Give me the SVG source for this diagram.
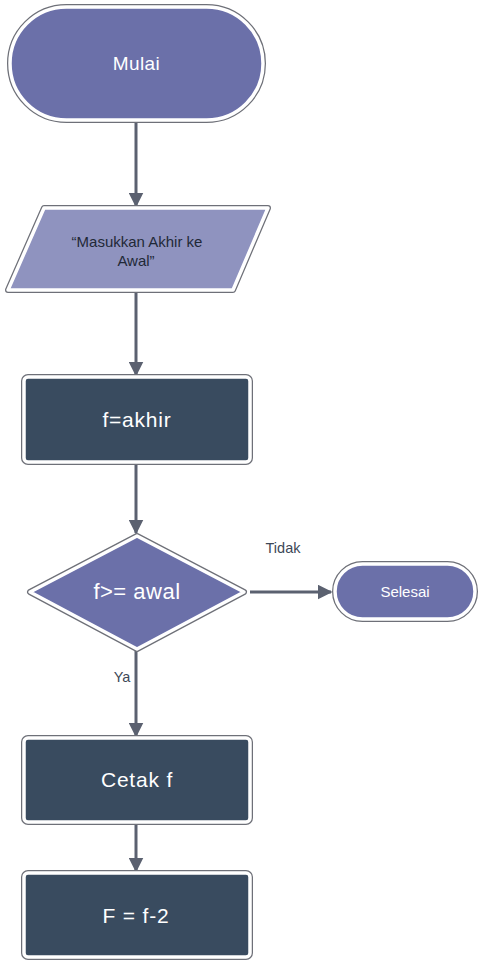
<svg xmlns="http://www.w3.org/2000/svg" width="482" height="964" viewBox="0 0 482 964">
<style>
.o{stroke:#6e7078;stroke-width:6}
.i{stroke:#ffffff;stroke-width:3.5}
.term{fill:#6b70a9}
.io{fill:#8f93bf}
.proc{fill:#394b5f}
.t{font-family:"Liberation Sans",Arial,sans-serif;text-anchor:middle}
.w{fill:#ffffff}
.big{font-size:21px;letter-spacing:0.8px}
.lbl{fill:#3d4857;font-size:14.5px}
.c{stroke:#5b6170;stroke-width:3;fill:none;marker-end:url(#ah)}
</style>
<defs>
<marker id="ah" viewBox="0 0 10 10" refX="9" refY="5" markerWidth="5" markerHeight="5" markerUnits="strokeWidth" orient="auto">
<path d="M0,0 L10,5 L0,10 z" fill="#5b6170"/>
</marker>
</defs>
<rect width="482" height="964" fill="#ffffff"/>
<g id="connectors">
<line class="c" x1="136" y1="122" x2="136" y2="206"/>
<line class="c" x1="136" y1="292" x2="136" y2="375"/>
<line class="c" x1="136" y1="463" x2="136" y2="533"/>
<line class="c" x1="136" y1="650" x2="136" y2="736"/>
<line class="c" x1="136" y1="823" x2="136" y2="871"/>
<line class="c" x1="250" y1="592" x2="331" y2="592"/>
<text class="t lbl" x="283" y="553">Tidak</text>
<text class="t lbl" x="122" y="682">Ya</text>
</g>
<g id="mulai">
<rect class="o" x="10" y="7" width="253" height="113" rx="56.5" fill="none"/>
<rect class="i term" x="10" y="7" width="253" height="113" rx="56.5"/>
<text class="t w" x="136.5" y="70" font-size="19" letter-spacing="0.4">Mulai</text>
</g>
<g id="input">
<path class="o" d="M44,208 L268,208 L233,290 L8,290 Z" fill="none" stroke-linejoin="round"/>
<path class="i io" d="M44,208 L268,208 L233,290 L8,290 Z" stroke-linejoin="round"/>
<text class="t" fill="#1f2937" font-size="15" x="137" y="247">“Masukkan Akhir ke</text>
<text class="t" fill="#1f2937" font-size="15" x="136" y="266">Awal”</text>
</g>
<g id="fakhir">
<rect class="o" x="24" y="377" width="226" height="85" rx="4" fill="none"/>
<rect class="i proc" x="24" y="377" width="226" height="85" rx="4"/>
<text class="t w big" x="137" y="427">f=akhir</text>
</g>
<g id="decision">
<path class="o" d="M137,536 L244,592 L137,649 L30,592 Z" fill="none" stroke-linejoin="round"/>
<path class="i term" d="M137,536 L244,592 L137,649 L30,592 Z" stroke-linejoin="round"/>
<text class="t w" x="137" y="599" font-size="22" letter-spacing="0.5">f&gt;= awal</text>
</g>
<g id="selesai">
<rect class="o" x="335" y="564" width="140" height="55" rx="27.5" fill="none"/>
<rect class="i term" x="335" y="564" width="140" height="55" rx="27.5"/>
<text class="t w" x="405" y="597" font-size="15">Selesai</text>
</g>
<g id="cetak">
<rect class="o" x="24" y="738" width="226" height="84" rx="4" fill="none"/>
<rect class="i proc" x="24" y="738" width="226" height="84" rx="4"/>
<text class="t w big" x="137" y="787">Cetak f</text>
</g>
<g id="update">
<rect class="o" x="24" y="873" width="226" height="84" rx="4" fill="none"/>
<rect class="i proc" x="24" y="873" width="226" height="84" rx="4"/>
<text class="t w big" x="136" y="923">F = f-2</text>
</g>
</svg>
